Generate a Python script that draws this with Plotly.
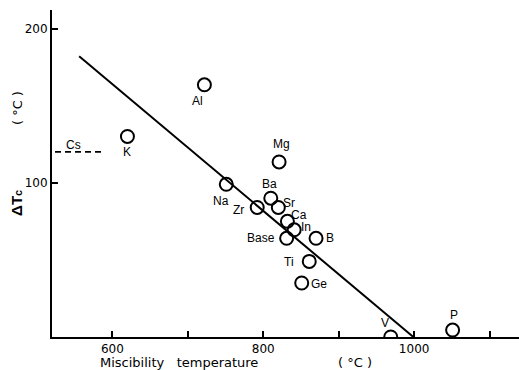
import plotly.graph_objects as go

# Data
elements = ["Al", "K", "Mg", "Na", "Ba", "Sr", "Zr", "Ca", "In", "Base", "B", "Ti", "Ge", "V", "P"]
miscibility_temp = [722, 620, 821, 751, 810, 820, 792, 832, 841, 831, 870, 861, 851, 969, 1051]
delta_tc = [163.5, 130, 113.5, 99, 90, 84, 84, 75, 69.5, 64, 64, 49, 35, 0, 4.5]

fit_x = [556, 999]
fit_y = [182, 0]

cs_x = [524, 590]
cs_y = [120, 120]

x_tickvals = [600, 700, 800, 900, 1000, 1100]
x_ticktext = ["600", "", "800", "", "1000", ""]
y_tickvals = [100, 200]
y_ticktext = ["100", "200"]

# label offsets (pixels) relative to each marker
label_offsets = {
    "Al": (-7, -16), "K": (0, -16), "Mg": (2, 18), "Na": (-5, -17),
    "Ba": (-1, 14), "Sr": (11, 4), "Zr": (-19, -3), "Ca": (12, 6),
    "In": (12, 3), "Base": (-26, 0), "B": (14, 0), "Ti": (-20, -1),
    "Ge": (17, -1), "V": (-6, 14), "P": (1, 15),
}

fig = go.Figure()

fig.add_trace(go.Scatter(x=fit_x, y=fit_y, mode="lines",
                         line=dict(color="black", width=2), showlegend=False))
fig.add_trace(go.Scatter(x=cs_x, y=cs_y, mode="lines",
                         line=dict(color="black", width=1.6, dash="6px,4px"), showlegend=False))
fig.add_trace(go.Scatter(x=miscibility_temp, y=delta_tc, mode="markers",
                         marker=dict(symbol="circle-open", size=13, color="black",
                                     line=dict(width=2, color="black")),
                         cliponaxis=True, showlegend=False))

label_font = dict(family="Liberation Sans Narrow, Arial Narrow, Liberation Sans, sans-serif",
                  size=12, color="black")
for name, xv, yv in zip(elements, miscibility_temp, delta_tc):
    dx, dy = label_offsets[name]
    fig.add_annotation(x=xv, y=yv, text=name, showarrow=False,
                       xshift=dx, yshift=dy, font=label_font)

fig.add_annotation(x=559, y=120, text="Cs", showarrow=False, yshift=7, xshift=-8, font=label_font)

tick_font = dict(family="DejaVu Sans, Verdana, sans-serif", size=12, color="black")
title_font = dict(family="DejaVu Sans, Verdana, sans-serif", size=13, color="black")

fig.update_layout(
    width=519, height=370,
    margin=dict(l=52, r=0, t=10, b=33),
    plot_bgcolor="white", paper_bgcolor="white",
    xaxis=dict(range=[520, 1139], tickvals=x_tickvals, ticktext=x_ticktext,
               ticks="inside", ticklen=6, tickwidth=1.5, tickcolor="black",
               showline=True, linecolor="black", linewidth=2,
               showgrid=False, zeroline=False, tickfont=tick_font,
               ticklabelstandoff=0),
    yaxis=dict(range=[0, 212], tickvals=y_tickvals, ticktext=y_ticktext,
               ticks="inside", ticklen=6, tickwidth=1.5, tickcolor="black",
               showline=True, linecolor="black", linewidth=2,
               showgrid=False, zeroline=False, tickfont=tick_font),
)

fig.add_annotation(xref="paper", yref="paper", x=0.098, y=-0.077, xanchor="left", yanchor="middle",
                   text="Miscibility   temperature", showarrow=False, font=title_font)
fig.add_annotation(xref="paper", yref="paper", x=0.649, y=-0.077, xanchor="center", yanchor="middle",
                   text="( °C )", showarrow=False, font=title_font)
fig.add_annotation(xref="paper", yref="paper", x=-0.075, y=0.41, xanchor="center", yanchor="middle",
                   text="<b>ΔT</b><span style='font-size:11px'><b>c</b></span>", textangle=-90, showarrow=False,
                   font=dict(family="Liberation Sans, Arial, sans-serif", size=15, color="black"))
fig.add_annotation(xref="paper", yref="paper", x=-0.075, y=0.70, xanchor="center", yanchor="middle",
                   text="( °C )", textangle=-90, showarrow=False, font=title_font)

fig.write_html("out.html")
